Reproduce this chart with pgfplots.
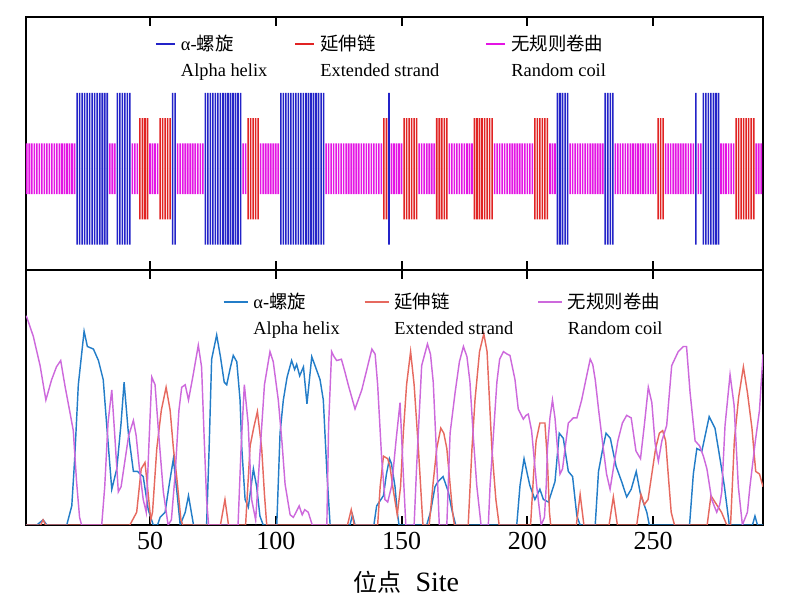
\documentclass[border=0pt]{standalone}
\usepackage{pgfplots}
\pgfplotsset{compat=1.18}
\usepackage{pgfplotstable}
\usepackage{fontspec}
\setmainfont{Liberation Serif}
\newfontfamily\cjk{Noto Sans CJK SC}

\definecolor{hb}{RGB}{35,35,200}
\definecolor{hr}{RGB}{225,35,35}
\definecolor{hm}{RGB}{228,20,228}
\definecolor{lb}{RGB}{35,125,200}
\definecolor{lr}{RGB}{230,105,95}
\definecolor{lm}{RGB}{205,105,220}

\pgfplotstableread[row sep=\\]{x h\\
21 3\\22 3\\23 3\\24 3\\25 3\\26 3\\27 3\\28 3\\29 3\\30 3\\31 3\\32 3\\33 3\\
37 3\\38 3\\39 3\\40 3\\41 3\\42 3\\59 3\\60 3\\
72 3\\73 3\\74 3\\75 3\\76 3\\77 3\\78 3\\79 3\\80 3\\81 3\\82 3\\83 3\\84 3\\85 3\\86 3\\
102 3\\103 3\\104 3\\105 3\\106 3\\107 3\\108 3\\109 3\\110 3\\111 3\\112 3\\113 3\\114 3\\115 3\\116 3\\117 3\\118 3\\119 3\\
145 3\\212 3\\213 3\\214 3\\215 3\\216 3\\231 3\\232 3\\233 3\\234 3\\267 3\\
270 3\\271 3\\272 3\\273 3\\274 3\\275 3\\276 3\\
}\helix

\pgfplotstableread[row sep=\\]{x h\\
46 2\\47 2\\48 2\\49 2\\54 2\\55 2\\56 2\\57 2\\58 2\\89 2\\90 2\\91 2\\92 2\\93 2\\143 2\\144 2\\
151 2\\152 2\\153 2\\154 2\\155 2\\156 2\\164 2\\165 2\\166 2\\167 2\\168 2\\
179 2\\180 2\\181 2\\182 2\\183 2\\184 2\\185 2\\186 2\\203 2\\204 2\\205 2\\206 2\\207 2\\208 2\\
252 2\\253 2\\254 2\\283 2\\284 2\\285 2\\286 2\\287 2\\288 2\\289 2\\290 2\\
}\strand

\pgfplotstableread[row sep=\\]{x h\\
1 1\\2 1\\3 1\\4 1\\5 1\\6 1\\7 1\\8 1\\9 1\\10 1\\11 1\\12 1\\13 1\\14 1\\15 1\\16 1\\17 1\\18 1\\19 1\\20 1\\
34 1\\35 1\\36 1\\43 1\\44 1\\45 1\\50 1\\51 1\\52 1\\53 1\\
61 1\\62 1\\63 1\\64 1\\65 1\\66 1\\67 1\\68 1\\69 1\\70 1\\71 1\\87 1\\88 1\\
94 1\\95 1\\96 1\\97 1\\98 1\\99 1\\100 1\\101 1\\
120 1\\121 1\\122 1\\123 1\\124 1\\125 1\\126 1\\127 1\\128 1\\129 1\\130 1\\131 1\\132 1\\133 1\\134 1\\135 1\\136 1\\137 1\\138 1\\139 1\\140 1\\141 1\\142 1\\
146 1\\147 1\\148 1\\149 1\\150 1\\157 1\\158 1\\159 1\\160 1\\161 1\\162 1\\163 1\\
169 1\\170 1\\171 1\\172 1\\173 1\\174 1\\175 1\\176 1\\177 1\\178 1\\
187 1\\188 1\\189 1\\190 1\\191 1\\192 1\\193 1\\194 1\\195 1\\196 1\\197 1\\198 1\\199 1\\200 1\\201 1\\202 1\\
209 1\\210 1\\211 1\\
217 1\\218 1\\219 1\\220 1\\221 1\\222 1\\223 1\\224 1\\225 1\\226 1\\227 1\\228 1\\229 1\\230 1\\
235 1\\236 1\\237 1\\238 1\\239 1\\240 1\\241 1\\242 1\\243 1\\244 1\\245 1\\246 1\\247 1\\248 1\\249 1\\250 1\\251 1\\
255 1\\256 1\\257 1\\258 1\\259 1\\260 1\\261 1\\262 1\\263 1\\264 1\\265 1\\266 1\\
268 1\\269 1\\277 1\\278 1\\279 1\\280 1\\281 1\\282 1\\291 1\\292 1\\293 1\\
}\coil

\pgfplotsset{
  panel/.style={
    scale only axis, width=368.5pt,
    xmin=0.7, xmax=293.7,
    xtick={50,100,150,200,250}, ytick=\empty,
    xtick pos=both, tick align=inside,
    major tick length=4.5pt,
    tick style={line width=1pt, black},
    axis line style={line width=1.1pt},
    tick label style={font=\fontsize{13}{15}\selectfont},
    /pgf/number format/assume math mode=true,
    legend columns=3,
    legend cell align=left,
  },
}

\begin{document}
\begin{tikzpicture}
\begin{axis}[panel, name=top, at={(0,0)}, anchor=north west,
  height=126.5pt, ymin=-4, ymax=6, xticklabels={},
  legend style={draw=none, fill=none, inner sep=0pt, outer sep=0pt,
    at={(0.175,0.937)}, anchor=north west,
    font=\fontsize{9.2}{13}\selectfont,
    nodes={align=left, inner sep=1pt},
    /tikz/every odd column/.style={column sep=1.5pt},
    /tikz/column 2/.style={column sep=12.5pt},
    /tikz/column 4/.style={column sep=22pt}},
  legend image code/.code={\draw[#1] (0pt,6.7pt) -- (9.5pt,6.7pt);},
]
\addplot[ybar, bar width=0.8pt, bar shift=0pt, fill=hm, draw=none, forget plot] table[x=x, y=h] {\coil};
\addplot[ybar, bar width=0.8pt, bar shift=0pt, fill=hm, draw=none, forget plot] table[x=x, y expr=-\thisrow{h}] {\coil};
\addplot[ybar, bar width=0.8pt, bar shift=0pt, fill=hr, draw=none, forget plot] table[x=x, y=h] {\strand};
\addplot[ybar, bar width=0.8pt, bar shift=0pt, fill=hr, draw=none, forget plot] table[x=x, y expr=-\thisrow{h}] {\strand};
\addplot[ybar, bar width=0.8pt, bar shift=0pt, fill=hb, draw=none, forget plot] table[x=x, y=h] {\helix};
\addplot[ybar, bar width=0.8pt, bar shift=0pt, fill=hb, draw=none, forget plot] table[x=x, y expr=-\thisrow{h}] {\helix};
\addlegendimage{hb, line width=1pt}
\addlegendentry{α-{\cjk 螺旋}\\Alpha helix}
\addlegendimage{hr, line width=1pt}
\addlegendentry{{\cjk 延伸链}\\Extended strand}
\addlegendimage{hm, line width=1pt}
\addlegendentry{{\cjk 无规则卷曲}\\Random coil}
\end{axis}

\begin{axis}[panel, name=bot, at={(top.south west)}, anchor=north west,
  height=127.5pt, ymin=0, ymax=1,
  xlabel={{\fontsize{12}{14}\selectfont\cjk 位点}\hspace{7pt}{\fontsize{14}{16}\selectfont Site}},
  xlabel style={at={(axis description cs:0.516,-0.2235)}, anchor=center},
  legend style={draw=none, fill=none, inner sep=0pt, outer sep=0pt,
    at={(0.267,0.918)}, anchor=north west,
    font=\fontsize{9.2}{13}\selectfont,
    nodes={align=left, inner sep=1pt},
    /tikz/every odd column/.style={column sep=1.5pt},
    /tikz/every even column/.style={column sep=11pt}},
  legend image code/.code={\draw[#1, line width=0.8pt] (0pt,6.7pt) -- (12pt,6.7pt);},
]
\addplot[lb, line width=0.72pt] coordinates {
(0.7,0)(5,0)(7.5,0.02)(9,0)(16.9,0)(18.9,0.075)(20,0.25)(21.5,0.55)(23.8,0.76)(25.1,0.70)(27.5,0.69)(29.5,0.645)(31.4,0.57)(32.8,0.39)(34.8,0.14)(36.8,0.22)(38.5,0.4)(39.7,0.56)(41.4,0.36)(43.4,0.21)(45,0.21)(47.3,0.19)(49.3,0.06)(51.3,0)(53,0)(54,0.03)(56,0.05)(57.5,0.15)(59.3,0.26)(60.8,0.12)(62,0)(64,0.05)(65.3,0.115)(67.3,0)(72.5,0)(73.5,0.3)(74.5,0.65)(76.5,0.745)(78,0.66)(79.5,0.56)(80.5,0.55)(82,0.62)(83.1,0.665)(84.5,0.64)(85.8,0.49)(86.5,0.3)(87.8,0.10)(89.1,0.07)(91.1,0.22)(92.4,0.15)(93.7,0.035)(95,0)(100.4,0)(101.7,0.36)(103,0.49)(104.5,0.58)(106.3,0.645)(107.5,0.61)(108.3,0.63)(109.5,0.585)(111,0.62)(112.4,0.475)(114.3,0.66)(115.6,0.625)(117.6,0.57)(118.9,0.49)(120.3,0.21)(121.6,0)(129.5,0)(130.5,0.04)(131.5,0)(139,0)(140.1,0.075)(142.8,0.115)(144,0.2)(145.2,0.26)(146,0.24)(147.4,0.15)(148.3,0.05)(149,0)(160,0)(161.5,0.05)(163.3,0.15)(164.5,0.17)(166.5,0.19)(168.6,0.13)(170,0.06)(171.5,0)(195.8,0)(197.1,0.155)(198.7,0.26)(200,0.2)(201,0.155)(203,0.10)(205,0.14)(206.4,0.10)(208.4,0.09)(211,0.17)(212.7,0.36)(214.3,0.34)(216.3,0.21)(218,0.19)(219.7,0.035)(221,0)(227,0)(228.3,0.21)(230,0.3)(231.3,0.36)(233,0.34)(235.3,0.23)(237.5,0.17)(239.5,0.11)(241.3,0.14)(243.3,0.21)(245,0.12)(247.5,0.05)(248.5,0)(264.5,0)(266,0.2)(267.4,0.3)(269.4,0.29)(272.3,0.425)(274.6,0.38)(276.6,0.26)(278.3,0.155)(280.3,0)(289.5,0)(290.5,0.035)(291.5,0)(293.7,0)
};
\addlegendentry{α-{\cjk 螺旋}\\Alpha helix}
\addplot[lr, line width=0.72pt] coordinates {
(0.7,0)(6.5,0)(7.5,0.02)(8.5,0)(42,0)(44.7,0.05)(46.5,0.22)(48,0.245)(49,0.15)(50.3,0.02)(51,0.05)(52.7,0.3)(54.5,0.45)(56.4,0.54)(58,0.45)(59.3,0.3)(60.6,0.19)(62.3,0.02)(63,0)(78,0)(79.8,0.10)(81.2,0)(88,0)(89.8,0.31)(91.2,0.38)(92.7,0.445)(94.4,0.30)(95.5,0.12)(96.4,0)(128.5,0)(130,0.06)(131.2,0)(140.5,0)(141.5,0.15)(142.8,0.27)(144.5,0.26)(145.4,0.23)(146.5,0.15)(148.3,0.04)(149.6,0.15)(150.7,0.36)(152,0.55)(153.6,0.68)(155,0.55)(156.7,0.30)(158.5,0)(161,0)(162.6,0.17)(164,0.3)(165.6,0.38)(166.8,0.36)(168,0.30)(170.3,0.05)(171,0)(176.5,0)(178,0.3)(179.2,0.49)(181,0.68)(182.7,0.75)(184,0.68)(185.9,0.30)(187.5,0.1)(188.8,0)(201.3,0)(202.5,0.2)(203.5,0.33)(205,0.40)(207,0.40)(208,0.25)(208.8,0.05)(209.3,0)(219.5,0)(221,0.12)(222.5,0)(232.5,0)(234.2,0.11)(235.8,0)(243.5,0)(245.2,0.12)(246.5,0.08)(248,0.1)(249.5,0.2)(251,0.3)(252.5,0.36)(253.8,0.37)(255,0.33)(256,0.2)(257.2,0.05)(258.5,0)(271.5,0)(273,0.115)(274.6,0.09)(277.2,0.05)(279.3,0)(280.8,0)(282.3,0.33)(284,0.5)(285.9,0.62)(287.5,0.52)(289.3,0.38)(290.8,0.21)(292.3,0.2)(293.7,0.15)
};
\addlegendentry{{\cjk 延伸链}\\Extended strand}
\addplot[lm, line width=0.72pt] coordinates {
(0.7,0.82)(1,0.815)(3.6,0.74)(6.3,0.625)(8.6,0.49)(10.9,0.57)(12.8,0.62)(14.5,0.645)(16.2,0.545)(18.2,0.44)(19.5,0.37)(20.8,0.17)(22,0.03)(22.8,0)(30.8,0)(32,0.15)(33.3,0.4)(34.8,0.53)(36,0.35)(37.4,0.13)(38.5,0.15)(40,0.25)(41.5,0.35)(43.4,0.41)(44.5,0.35)(45.8,0.22)(47.3,0.1)(48.5,0.05)(49.5,0.3)(50.7,0.58)(52,0.55)(53.5,0.35)(55.3,0.13)(57.2,0)(58.5,0.02)(60,0.2)(61.5,0.45)(62.6,0.54)(64,0.55)(65.3,0.49)(67,0.58)(69.2,0.705)(70.5,0.62)(71.5,0.35)(72.5,0.1)(73.3,0)(85,0)(86.2,0.3)(87.5,0.55)(89,0.4)(90.4,0.10)(92,0.02)(93.5,0.25)(95.5,0.55)(97.7,0.68)(99,0.64)(101,0.49)(102.5,0.32)(103.7,0.16)(105.7,0.04)(107,0.03)(109.3,0.075)(110.5,0.04)(111.5,0.06)(112.9,0.05)(114.5,0)(120.3,0)(121,0.39)(122.2,0.68)(123.2,0.66)(124.2,0.645)(126.1,0.65)(127.5,0.6)(128.8,0.55)(131.5,0.455)(134.2,0.53)(136.2,0.61)(138.2,0.69)(139.5,0.67)(140.5,0.55)(142.1,0.26)(143.4,0.10)(144.5,0.09)(146.1,0.155)(147.8,0.33)(149.4,0.48)(150.7,0.2)(151.7,0)(155,0)(156,0.23)(158,0.625)(160.3,0.71)(161.5,0.67)(162.6,0.56)(163.8,0.3)(165,0)(168,0)(169.3,0.36)(171.3,0.52)(173,0.64)(174.6,0.70)(176,0.66)(177.2,0.56)(178.5,0.35)(179.9,0.155)(181.6,0)(184.5,0)(185.2,0.155)(186.5,0.35)(187.9,0.56)(189,0.65)(190.5,0.68)(192,0.67)(193.1,0.665)(195.1,0.57)(196.4,0.455)(198.4,0.415)(199.5,0.43)(200.4,0.435)(201.7,0.37)(203.7,0.155)(205.5,0)(206.8,0.03)(207.5,0.15)(208,0.30)(209,0.42)(210,0.49)(211,0.42)(212,0.30)(213,0.2)(214,0.22)(215,0.30)(216.3,0.40)(218.3,0.42)(219.7,0.42)(221.6,0.49)(223.6,0.585)(225,0.65)(226,0.63)(227,0.57)(228.3,0.455)(230.2,0.30)(231.5,0.2)(232.9,0.14)(234.5,0.24)(236,0.33)(237.8,0.40)(239.5,0.43)(241.3,0.42)(243.2,0.29)(245,0.26)(246.5,0.39)(248.1,0.54)(249.5,0.48)(250.8,0.32)(252.1,0.25)(253.5,0.33)(255.4,0.39)(257.4,0.625)(260,0.68)(262,0.70)(263.3,0.70)(264.7,0.52)(266.7,0.33)(268.5,0.31)(270,0.27)(271.4,0.22)(273.3,0.10)(275.3,0.05)(276.5,0.08)(277.3,0.13)(278.6,0.39)(280.6,0.59)(282.2,0.47)(283.9,0.15)(285.5,0)(287.5,0.05)(288.5,0.15)(290.6,0.325)(292.3,0.45)(293.7,0.67)
};
\addlegendentry{{\cjk 无规则卷曲}\\Random coil}
\end{axis}
\path ([xshift=-13pt, yshift=8.5pt]top.north west) rectangle ([xshift=11pt, yshift=-43pt]bot.south east);
\end{tikzpicture}
\end{document}
